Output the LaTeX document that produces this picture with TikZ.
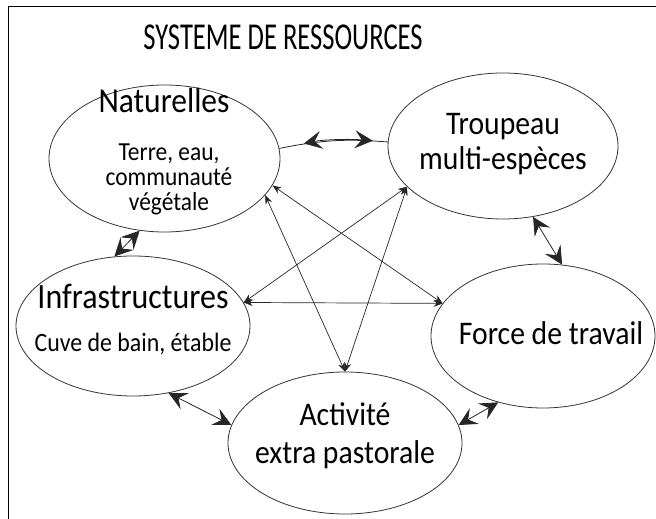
\documentclass[tikz,border=0pt]{standalone}
\usepackage{fontspec}
\setmainfont{Carlito}
\usetikzlibrary{shapes.geometric,arrows.meta,positioning}
\newlength{\rimwidth}
\setlength{\rimwidth}{0.8pt}
\newcommand{\narrow}[2][0.9]{\scalebox{#1}[1]{\begin{tabular}{@{}c@{}}#2\end{tabular}}}

\begin{document}
\begin{tikzpicture}[x=1pt,y=1pt,
    res/.style={draw=black!80,line width=\rimwidth,ellipse,inner sep=0pt},
    lbl/.style={inner sep=0pt},
    link/.style={draw=black!85,line width=\rimwidth,{Stealth[length=18pt,width=18pt,inset=7pt]}-{Stealth[length=18pt,width=18pt,inset=7pt]}},
    cross/.style={draw=black!85,line width=0.7pt,{Stealth[length=9pt,width=7pt]}-{Stealth[length=9pt,width=7pt]}}]
  \useasboundingbox (0,0) rectangle (656,519);
  \draw[line width=1pt] (8,0) -- (8,512) -- (656,512);
  \node[lbl,font=\fontsize{38}{42}\selectfont] (title) at (283,478) {\narrow[0.7]{SYSTEME DE RESSOURCES}};
  % the five resources
  \node[res,minimum width=231pt,minimum height=147pt] (nat) at (164.5,360.5) {};
  \node[res,minimum width=230pt,minimum height=146pt] (trp) at (503,373) {};
  \node[res,minimum width=234pt,minimum height=140pt] (inf) at (133,193) {};
  \node[res,minimum width=224pt,minimum height=144pt] (frc) at (543,183) {};
  \node[res,minimum width=234pt,minimum height=142pt] (act) at (345,76) {};
  \node[lbl,font=\fontsize{35}{40}\selectfont] (natT) at (164,414) {\narrow{Naturelles}};
  \node[lbl,font=\fontsize{26}{23.5}\selectfont] (natS) at (169,338) {\narrow{Terre, eau,\\communauté\\végétale}};
  \node[lbl,font=\fontsize{33}{35}\selectfont] (trpT) at (503,373.5) {\narrow{Troupeau\\multi-espèces}};
  \node[lbl,font=\fontsize{35.5}{40}\selectfont] (infT) at (133,218) {\narrow{Infrastructures}};
  \node[lbl,font=\fontsize{26.5}{34}\selectfont] (infS) at (133,174) {\narrow{Cuve de bain, étable}};
  \node[lbl,font=\fontsize{33}{38}\selectfont] (frcT) at (551,182) {\narrow{Force de travail}};
  \node[lbl,font=\fontsize{33}{38}\selectfont] (actT) at (345,82) {\narrow{Activité\\extra pastorale}};
  % neighbours
  \draw[draw=black!85,line width=\rimwidth] (nat.5) to[bend left=8] (trp.178);
  \draw[link,shorten <=25pt,shorten >=15pt] (nat.5) to[bend left=8] (trp.178);
  \draw[link] (nat.251) -- (inf.105);
  \draw[link] (trp.293) -- (frc.75);
  \draw[link] (inf.298) -- (act.171);
  \draw[link] (act.9.5) -- (frc.236);
  % across
  \draw[cross] (nat.346) -- (frc.162);
  \draw[cross] (nat.340) -- (act.90);
  \draw[cross] (trp.203) -- (inf.12);
  \draw[cross] (trp.203) -- (act.90);
  \draw[cross] (inf.12) -- (frc.162);
\end{tikzpicture}
\end{document}
